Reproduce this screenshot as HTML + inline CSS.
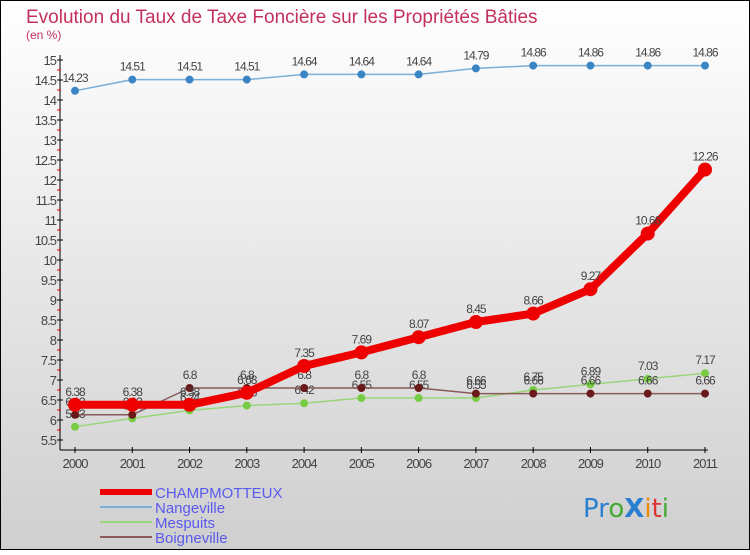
<!DOCTYPE html>
<html><head><meta charset="utf-8"><style>
html,body{margin:0;padding:0}
body{width:750px;height:550px;overflow:hidden;font-family:"Liberation Sans",sans-serif}
</style></head><body>
<svg id="chart" width="750" height="550" viewBox="0 0 750 550" xmlns="http://www.w3.org/2000/svg">
<defs><linearGradient id="bg" x1="0" y1="0" x2="0" y2="1"><stop offset="0" stop-color="#ffffff"/><stop offset="1" stop-color="#cfcfcf"/></linearGradient></defs>
<rect x="0.5" y="0.5" width="749" height="549" fill="url(#bg)" stroke="#000"/>
<text x="26" y="23" font-size="19" fill="#c4305c">Evolution du Taux de Taxe Foncière sur les Propriétés Bâties</text>
<text x="26" y="39" font-size="12" fill="#c4305c">(en %)</text>
<g id="axes"></g><g id="series"></g>
<g font-size="15" fill="#5a5af0">
<line x1="100" y1="492" x2="152" y2="492" stroke="#ee0000" stroke-width="6"/>
<text x="155" y="498" fill="#5a5af0">CHAMPMOTTEUX</text>
<line x1="100" y1="507" x2="152" y2="507" stroke="#7aaed6" stroke-width="2"/>
<text x="155" y="513" fill="#5a5af0">Nangeville</text>
<line x1="100" y1="522" x2="152" y2="522" stroke="#99d67a" stroke-width="2"/>
<text x="155" y="528" fill="#5a5af0">Mespuits</text>
<line x1="100" y1="537" x2="152" y2="537" stroke="#8a5a5a" stroke-width="2"/>
<text x="155" y="543" fill="#5a5af0">Boigneville</text>
</g>
<text x="583" y="517" font-size="26" font-family="'DejaVu Sans',sans-serif"><tspan fill="#2a7fd0">Pr</tspan><tspan fill="#44aa33">o</tspan><tspan fill="#2a7fd0" font-weight="bold">X</tspan><tspan fill="#ee8800">i</tspan><tspan fill="#dd3333">t</tspan><tspan fill="#44aa33">i</tspan></text>
</svg>
<script>
const years=[2000,2001,2002,2003,2004,2005,2006,2007,2008,2009,2010,2011];
const champ=[6.38,6.38,6.38,6.68,7.35,7.69,8.07,8.45,8.66,9.27,10.66,12.26];
const nange=[14.23,14.51,14.51,14.51,14.64,14.64,14.64,14.79,14.86,14.86,14.86,14.86];
const mesp=[5.83,6.04,6.24,6.36,6.42,6.55,6.55,6.55,6.75,6.89,7.03,7.17];
const boig=[6.13,6.13,6.8,6.8,6.8,6.8,6.8,6.66,6.66,6.66,6.66,6.66];
const yTicks=[5.5,6,6.5,7,7.5,8,8.5,9,9.5,10,10.5,11,11.5,12,12.5,13,13.5,14,14.5,15];
const NS="http://www.w3.org/2000/svg";
const X=i=>75+i*(630/11);
const Y=v=>440-(v-5.5)*40;
function mk(tag,attrs,parent){const e=document.createElementNS(NS,tag);for(const k in attrs)e.setAttribute(k,attrs[k]);parent.appendChild(e);return e;}
const axes=document.getElementById('axes'),ser=document.getElementById('series');
let yl=mk('line',{x1:60,y1:55,x2:60,y2:450,stroke:'#000'},axes);

let xl=mk('line',{x1:60,y1:450,x2:708,y2:450,stroke:'#000'},axes);

yTicks.forEach(v=>{
 mk('line',{x1:57,y1:Y(v),x2:63,y2:Y(v),stroke:'#000'},axes);
 if(v<15)mk('line',{x1:57,y1:Y(v+0.25),x2:61,y2:Y(v+0.25),stroke:'#e00'},axes);
 const t=mk('text',{x:56,y:Y(v)+5,'font-size':13,fill:'#444','text-anchor':'end','letter-spacing':'-1'},axes);
 t.textContent=String(v);
 
});
years.forEach((yr,i)=>{
 mk('line',{x1:X(i),y1:447,x2:X(i),y2:453,stroke:'#000'},axes);
 const t=mk('text',{x:X(i),y:468,'font-size':13,fill:'#444','text-anchor':'middle','letter-spacing':'-1'},axes);
 t.textContent=String(yr);
 
});
function draw(vals,name,color,dot,w,r){
 const g=mk('g',{},ser);
 
 mk('polyline',{points:vals.map((v,i)=>X(i)+','+Y(v)).join(' '),fill:'none',stroke:color,'stroke-width':w,'stroke-linejoin':'round'},g);
 vals.forEach((v,i)=>{
  const c=mk('circle',{cx:X(i),cy:Y(v),r:r,fill:dot},g);
  
  const t=mk('text',{x:X(i),y:Y(v)-9,'font-size':12,fill:'#444','text-anchor':'middle','letter-spacing':'-1'},g);
  t.textContent=String(v);
 });
}
draw(nange,'nangeville','#7aaed6','#3a86c4',1.5,4);
draw(mesp,'mespuits','#99d67a','#77cc44',1.5,4);
draw(boig,'boigneville','#8a5a5a','#6a1a1a',1.5,4);
draw(champ,'champmotteux','#ee0000','#ee0000',8,7);
</script>
</body></html>
